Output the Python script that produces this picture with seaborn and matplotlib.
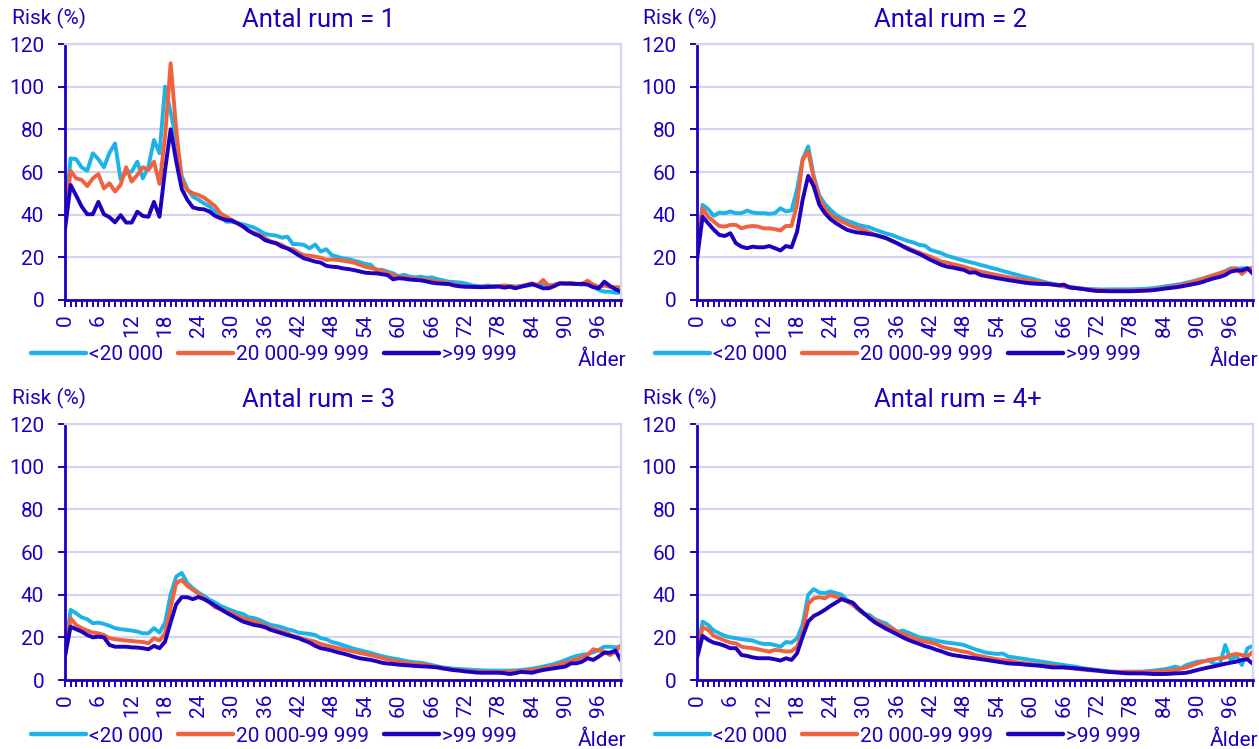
import matplotlib
matplotlib.use("Agg")
import matplotlib.pyplot as plt
import seaborn as sns
import pandas as pd
import numpy as np
from matplotlib.ticker import MultipleLocator

# ---------------- data ----------------
ages = list(range(101))
groups = ["<20 000", "20 000-99 999", ">99 999"]
titles = ["Antal rum = 1", "Antal rum = 2", "Antal rum = 3", "Antal rum = 4+"]
y_label = "Risk (%)"
x_label = "Ålder"

p1_low = [38, 66.4, 66, 62.2, 60.6, 68.8, 66, 62.2, 69, 73.4,
          56.6, 59.7, 60.2, 64.8, 57, 62.5, 75, 68.8, 100, 88,
          75, 58, 52, 48.4, 47, 45.3, 43.8, 41.4, 38.8, 36.7,
          36.7, 36, 35.5, 34.7, 34, 32.5, 31, 30.5, 30.2, 29.2,
          29.7, 26.2, 26.2, 25.8, 24.2, 26, 22.7, 23.8, 21, 20.3,
          19.5, 19.2, 18.4, 17.8, 16.9, 16.5, 14, 14.2, 13.3, 12.5,
          11.2, 11.8, 11, 10.6, 10.9, 10.4, 10.6, 9.8, 9.2, 8.6,
          8.4, 8.2, 7.8, 7, 6.6, 6.4, 6.8, 6.5, 6.5, 6.3,
          6.6, 6.2, 6.5, 6.8, 7, 7.2, 7.4, 6.9, 7.1, 7.8,
          7.6, 7.9, 7.5, 7.2, 7.8, 6.5, 4.7, 3.9, 3.9, 3.4, 3.4]
p1_mid = [36, 60.6, 57, 56.3, 53.4, 57, 59, 52.3, 54.7, 50.8,
          54, 62.2, 55.5, 58.6, 62.2, 61, 64.8, 54.4, 76.6, 111,
          80, 56, 51.5, 50, 49.2, 48, 46, 44, 40.6, 39,
          37.5, 36, 34.5, 32.5, 31.5, 30.5, 29, 27.5, 26.8, 25.8,
          24.2, 23.8, 22.2, 21, 20.8, 20.3, 19.8, 18.8, 19, 18.8,
          18.4, 18, 17.5, 16.5, 15.6, 15, 14.4, 13.6, 12.5, 11.8,
          10.6, 10.8, 10.2, 9.7, 9.8, 9.2, 9, 8.6, 8.2, 7.8,
          7.2, 6.8, 6.25, 6.2, 6, 6.2, 6.4, 6.2, 6.5, 6.8,
          6.6, 6.2, 6.5, 7.2, 7.8, 7, 9.4, 6.6, 7.2, 7.8,
          7.5, 8, 7.6, 7.5, 9, 7.2, 6.2, 6.8, 6.2, 6, 5.9]
p1_high = [33, 53.9, 49, 43.8, 40.2, 40.2, 46, 40.2, 38.8, 36.4,
           39.8, 36.3, 36.3, 41.4, 39.4, 39, 46, 39, 61, 80,
           65, 52, 47, 43.4, 42.7, 42.5, 41.4, 39.4, 38.3, 37.5,
           37.2, 36, 34.5, 32.5, 31, 30, 28, 27.2, 26.5, 25,
           24.2, 22.7, 21, 19.5, 18.8, 18, 17.5, 16, 15.6, 15.4,
           14.8, 14.5, 14, 13.4, 12.8, 12.6, 12.5, 12.1, 11.7, 9.7,
           10.2, 10, 9.6, 9.4, 9.2, 8.7, 8.1, 7.8, 7.6, 7.5,
           6.8, 6.4, 6.25, 6.2, 6.1, 6, 6.1, 6.2, 6.3, 5.8,
           6.2, 5.5, 6.2, 6.8, 7.5, 6.5, 5.5, 5.5, 6.5, 7.8,
           7.8, 7.6, 7.5, 7.6, 7.2, 6, 5.5, 8.6, 6.6, 5, 3.9]

p2_low = [22, 44.6, 42.6, 39.4, 41, 40.7, 41.5, 40.7, 40.7, 41.9,
          41, 40.7, 40.7, 40.4, 40.7, 43, 41.5, 42, 52, 66,
          72, 58, 49, 45, 42.3, 39.9, 38.3, 37.2, 36.3, 35.2,
          34.6, 34.1, 33, 32.1, 31.2, 30.5, 29.5, 28.5, 27.6, 26.9,
          25.8, 25.5, 23.5, 22.7, 21.9, 20.7, 20, 19.2, 18.5, 17.8,
          17.2, 16.4, 15.8, 15, 14.4, 13.6, 12.9, 12.2, 11.5, 10.8,
          10.2, 9.5, 8.8, 8.1, 7.6, 7.1, 6.6, 6.2, 5.8, 5.5,
          5.2, 5.1, 5, 4.9, 5, 5, 5, 5, 5, 5.1,
          5.2, 5.3, 5.6, 5.9, 6.3, 6.7, 7.1, 7.5, 8.1, 8.7,
          9.4, 10.1, 10.9, 11.7, 12.6, 13.5, 14.9, 14.6, 14.9, 14.8, 14]
p2_mid = [21, 43, 39, 36.8, 34.7, 34.4, 35.2, 35.2, 33.6, 34.4,
          34.7, 34.4, 33.6, 33.6, 33.2, 32.6, 34.7, 34.7, 45, 65.7,
          69.6, 57, 48, 43, 39.9, 38.3, 36.8, 35.7, 34.4, 33.6,
          32.9, 31.8, 30.5, 29.7, 29, 27.8, 26.6, 25.4, 24.3, 23.2,
          22.2, 21.2, 20.3, 19.1, 18, 17.5, 16.8, 16.2, 15.6, 14.8,
          14.1, 13.3, 12.8, 12.2, 11.7, 11.2, 10.7, 10.2, 9.7, 9.3,
          8.9, 8.5, 8.1, 7.8, 7.3, 6.8, 6.3, 5.9, 5.6, 5.3,
          5, 4.8, 4.7, 4.5, 4.4, 4.4, 4.4, 4.4, 4.4, 4.5,
          4.6, 4.7, 4.9, 5.2, 5.5, 6, 6.5, 7, 7.6, 8.3,
          9.1, 9.9, 10.8, 11.7, 12.5, 13.3, 14.4, 14.9, 12.2, 14.4, 15.3]
p2_high = [18.8, 39, 36, 33, 30.5, 30, 31.3, 26.6, 25, 24.3,
           25, 24.7, 24.7, 25.3, 24.3, 23.2, 25.3, 24.7, 32, 47,
           58.2, 53.2, 44.6, 40.7, 37.9, 36, 34.4, 32.9, 32.1, 31.6,
           31.3, 30.9, 30.5, 29.8, 29, 27.8, 26.6, 25.2, 23.8, 22.7,
           21.6, 20.2, 18.8, 17.6, 16.4, 15.6, 15.2, 14.6, 14.1, 12.8,
           13, 11.7, 11.2, 10.7, 10.2, 9.8, 9.3, 8.9, 8.5, 8.1,
           7.8, 7.6, 7.5, 7.5, 7.2, 6.9, 7.2, 5.9, 5.6, 5.3,
           4.9, 4.5, 4.2, 4.2, 4.1, 4.1, 4.1, 4.1, 4.1, 4.2,
           4.3, 4.4, 4.6, 4.9, 5.3, 5.6, 5.9, 6.3, 6.8, 7.3,
           7.8, 8.5, 9.4, 10.2, 10.8, 11.7, 13.3, 13.8, 13.8, 14.9, 12.2]

p3_low = [12.5, 32.9, 31.3, 29.4, 28.5, 26.6, 26.9, 26.3, 25.4, 24.3,
          23.8, 23.5, 23.2, 22.7, 21.9, 21.9, 24.3, 22.2, 27, 40,
          48.5, 50.2, 45.4, 43, 41, 39.4, 37.6, 36.3, 34.7, 33.6,
          32.6, 31.6, 31, 29.4, 29, 28.2, 26.9, 25.8, 25.4, 24.7,
          23.8, 23.2, 22.2, 21.9, 21.6, 21.1, 19.6, 19.1, 17.8, 17.2,
          16.3, 15.5, 14.6, 14, 13.3, 12.7, 11.9, 11.2, 10.6, 10.1,
          9.7, 9.1, 8.6, 8.3, 8.1, 7.6, 7, 6.4, 5.9, 5.6,
          5.3, 5.1, 5, 4.8, 4.7, 4.5, 4.4, 4.4, 4.4, 4.4,
          4.4, 4.5, 4.7, 5, 5.3, 5.8, 6.3, 6.9, 7.5, 8.4,
          9.4, 10.4, 11.3, 11.8, 12.2, 13, 14.1, 15.6, 15.6, 15.3, 15.6]
p3_mid = [11.7, 29, 25.8, 24.3, 23.2, 22.2, 21.9, 21.1, 19.6, 19.1,
          18.8, 18.5, 18.3, 18, 17.8, 17.2, 19.6, 18.5, 22, 34,
          45.4, 46.9, 44.1, 42.3, 40.4, 38.3, 36.3, 34.1, 33.2, 32.1,
          31.3, 30, 29, 28.2, 27.4, 26.6, 25.4, 24.3, 23.5, 22.7,
          21.9, 20.7, 20, 19.1, 18.5, 18, 16.9, 16.2, 15.6, 15,
          14.4, 13.8, 13.3, 12.7, 12.2, 11.6, 11, 10.3, 9.7, 9.1,
          8.6, 8.2, 7.8, 7.6, 7.5, 7, 6.6, 6, 5.5, 5.1,
          4.7, 4.5, 4.4, 4.1, 3.9, 3.8, 3.8, 3.8, 3.8, 3.8,
          3.8, 3.9, 4.1, 4.4, 4.7, 5.1, 5.5, 6, 6.6, 7.3,
          8.1, 8.9, 9.7, 10.7, 11.7, 14.4, 13.8, 13.3, 11.7, 13.3, 16.4]
p3_high = [11, 25, 23.8, 22.7, 21.1, 20, 20.3, 20, 16.4, 15.6,
           15.6, 15.6, 15.3, 15.2, 14.9, 14.4, 16, 14.9, 18, 27,
           35.5, 38.8, 38.8, 37.9, 38.9, 37.9, 36.5, 34.8, 33.2, 31.6,
           30.2, 28.8, 27.4, 26.6, 25.8, 25.4, 24.7, 23.5, 22.7, 21.9,
           21.1, 20.3, 19.6, 18.5, 17.5, 16, 14.9, 14.4, 13.8, 13,
           12.4, 11.7, 10.9, 10.2, 9.8, 9.4, 8.8, 8.1, 7.7, 7.5,
           7.2, 7, 6.8, 6.6, 6.4, 6.3, 6.1, 5.9, 5.4, 5,
           4.6, 4.4, 4, 3.8, 3.5, 3.4, 3.4, 3.4, 3.4, 3.2,
           2.8, 3.2, 3.8, 3.6, 3.4, 4.1, 4.7, 5.1, 5.5, 5.9,
           6.3, 7.8, 7.8, 8.6, 10.2, 9.4, 11, 12.8, 12.8, 13.8, 9.1]

p4_low = [12.5, 27.4, 25.8, 23.2, 21.9, 20.7, 20, 19.6, 19.1, 18.8,
          18.5, 17.5, 16.9, 16.9, 16.4, 15.6, 17.8, 17.5, 19.5, 26,
          40, 42.6, 41, 40.7, 41.5, 40.7, 40, 37.5, 35.5, 33,
          31, 30.5, 28.5, 27.4, 26.5, 24.5, 22.5, 23.2, 22.2, 21.1,
          20, 19.6, 19.1, 18.5, 18, 17.5, 17.2, 16.9, 16.4, 15.4,
          14.4, 13.6, 12.8, 12.5, 12.2, 12.4, 11, 10.6, 10.2, 9.8,
          9.4, 9, 8.6, 8.2, 7.8, 7.4, 7, 6.6, 6.3, 5.8,
          5.3, 5, 4.7, 4.4, 4.1, 3.9, 3.8, 3.9, 3.9, 3.9,
          3.9, 4.1, 4.4, 4.7, 5, 5.5, 6.3, 5.5, 7, 7.8,
          8.6, 8.8, 9.1, 7.8, 7, 16.4, 9.1, 11.3, 7, 14.9, 16]
p4_mid = [11.7, 24.7, 23.5, 20.7, 19.6, 18.5, 17.5, 17.2, 15.6, 15.2,
          14.9, 14.4, 13.8, 13.3, 14.1, 13.8, 13.3, 13.5, 15.6, 22,
          35.7, 38.3, 38.8, 38.3, 39.9, 39, 38.3, 36.8, 35.2, 33.2,
          31.3, 29.4, 27.9, 26.6, 25, 24.3, 22.7, 21.6, 20.7, 19.6,
          18.8, 18, 17.5, 16.9, 15.6, 14.9, 14.4, 13.8, 13.3, 12.8,
          11.7, 11.2, 10.6, 10.2, 9.7, 9.4, 9.1, 8.6, 8.1, 7.8,
          7.5, 7.2, 7, 6.8, 6.6, 6.2, 5.9, 5.6, 5.3, 5,
          4.7, 4.5, 4.4, 4.1, 3.9, 3.8, 3.8, 3.8, 3.8, 3.8,
          3.8, 3.8, 3.9, 4, 4.1, 4.4, 4.7, 5.3, 5.9, 6.8,
          7.8, 8.6, 9.4, 9.8, 10.2, 10.5, 11.7, 12.2, 11.7, 11, 13.3]
p4_high = [10.2, 20.7, 18.8, 17.5, 16.9, 16, 14.9, 14.9, 11.7, 11.3,
           10.6, 10.2, 10.2, 10.2, 9.7, 9.1, 10.2, 9.4, 12.5, 20.3,
           27.4, 30, 31.3, 32.9, 34.7, 36.3, 37.9, 37, 36.3, 33.6,
           31.3, 29, 27, 25.5, 24, 22.7, 21.4, 20, 18.8, 17.8,
           16.9, 15.9, 15.2, 14.2, 13.4, 12.4, 11.7, 11.3, 10.9, 10.5,
           10.2, 9.8, 9.4, 9, 8.6, 8.2, 7.8, 7.6, 7.5, 7.2,
           7, 6.8, 6.6, 6.2, 5.9, 5.9, 5.9, 5.7, 5.5, 5.2,
           5, 4.7, 4.4, 4.1, 3.8, 3.6, 3.4, 3.2, 3.1, 3.1,
           3.1, 3, 2.8, 2.8, 2.8, 2.9, 3.1, 3.2, 3.4, 4,
           4.7, 5.3, 5.9, 6.4, 7, 7.6, 8.1, 8.6, 9.4, 9.7, 7.5]

panels = [
    (p1_low, p1_mid, p1_high),
    (p2_low, p2_mid, p2_high),
    (p3_low, p3_mid, p3_high),
    (p4_low, p4_mid, p4_high),
]

# ---------------- style ----------------
DARK = "#1E00BE"
CYAN = "#1CB4E8"
ORANGE = "#F0623E"
GRID = "#D4D4F0"
palette = {groups[0]: CYAN, groups[1]: ORANGE, groups[2]: DARK}

sns.set_theme(style="white")
plt.rcParams["font.family"] = ["Roboto", "DejaVu Sans"]

W, H = 1259, 749
fig = plt.figure(figsize=(W / 100, H / 100), dpi=100)

boxes = [(65, 44, 621, 300), (697, 44, 1253, 300),
         (65, 424, 621, 680), (697, 424, 1253, 680)]
title_pos = [(242, 20), (874, 20), (242, 400), (874, 400)]
risk_pos = [(12, 18), (643, 18), (12, 398), (643, 398)]
legend_pos = [(31, 355), (655, 355), (31, 736), (655, 736)]
alder_pos = [(626, 360), (1258, 360), (626, 740), (1258, 740)]

for i, (low, mid, high) in enumerate(panels):
    l, t, r, b = boxes[i]
    ax = fig.add_axes([l / W, 1 - b / H, (r - l) / W, (b - t) / H])
    df = pd.DataFrame({
        "age": ages * 3,
        "risk": list(low) + list(mid) + list(high),
        "group": [groups[0]] * 101 + [groups[1]] * 101 + [groups[2]] * 101,
    })
    sns.lineplot(data=df, x="age", y="risk", hue="group", hue_order=groups,
                 palette=palette, linewidth=2.8, ax=ax, legend=True)
    ax.set_xlim(0, 100)
    ax.set_ylim(0, 120)
    ax.set_xlabel("")
    ax.set_ylabel("")
    ax.set_yticks(range(0, 121, 20))
    ax.yaxis.grid(True, color=GRID, linewidth=1.6)
    ax.xaxis.grid(False)
    ax.set_axisbelow(True)
    ax.xaxis.set_major_locator(MultipleLocator(6))
    ax.xaxis.set_minor_locator(MultipleLocator(1))
    ax.tick_params(axis="x", which="both", direction="out", length=5, width=1.4,
                   color=DARK, labelcolor=DARK, labelsize=15, labelrotation=90, pad=5,
                   bottom=True)
    ax.tick_params(axis="y", which="major", direction="out", length=5, width=1.4,
                   color=DARK, labelcolor=DARK, labelsize=15, pad=10, left=True)
    for s in ("left", "bottom"):
        ax.spines[s].set_color(DARK)
        ax.spines[s].set_linewidth(2)
    for s in ("top", "right"):
        ax.spines[s].set_color(GRID)
        ax.spines[s].set_linewidth(1.6)
    ax.spines["bottom"].set_zorder(5)

    handles, labels = ax.get_legend_handles_labels()
    for h in handles:
        h.set_linewidth(3.2)
    lx, ly = legend_pos[i]
    ax.legend(handles, labels, loc="center left",
              bbox_to_anchor=(lx / W, 1 - ly / H), bbox_transform=fig.transFigure,
              ncol=3, frameon=False, fontsize=15, handlelength=2.65,
              handletextpad=0.15, columnspacing=0.7, borderpad=0, borderaxespad=0,
              labelcolor=DARK)

    tx, ty = title_pos[i]
    fig.text(tx / W, 1 - ty / H, titles[i], color=DARK, fontsize=18.5,
             ha="left", va="center")
    rx, ry = risk_pos[i]
    fig.text(rx / W, 1 - ry / H, y_label, color=DARK, fontsize=15,
             ha="left", va="center")
    axx, axy = alder_pos[i]
    fig.text(axx / W, 1 - axy / H, x_label, color=DARK, fontsize=15,
             ha="right", va="center")

fig.savefig("out.png", dpi=100)
